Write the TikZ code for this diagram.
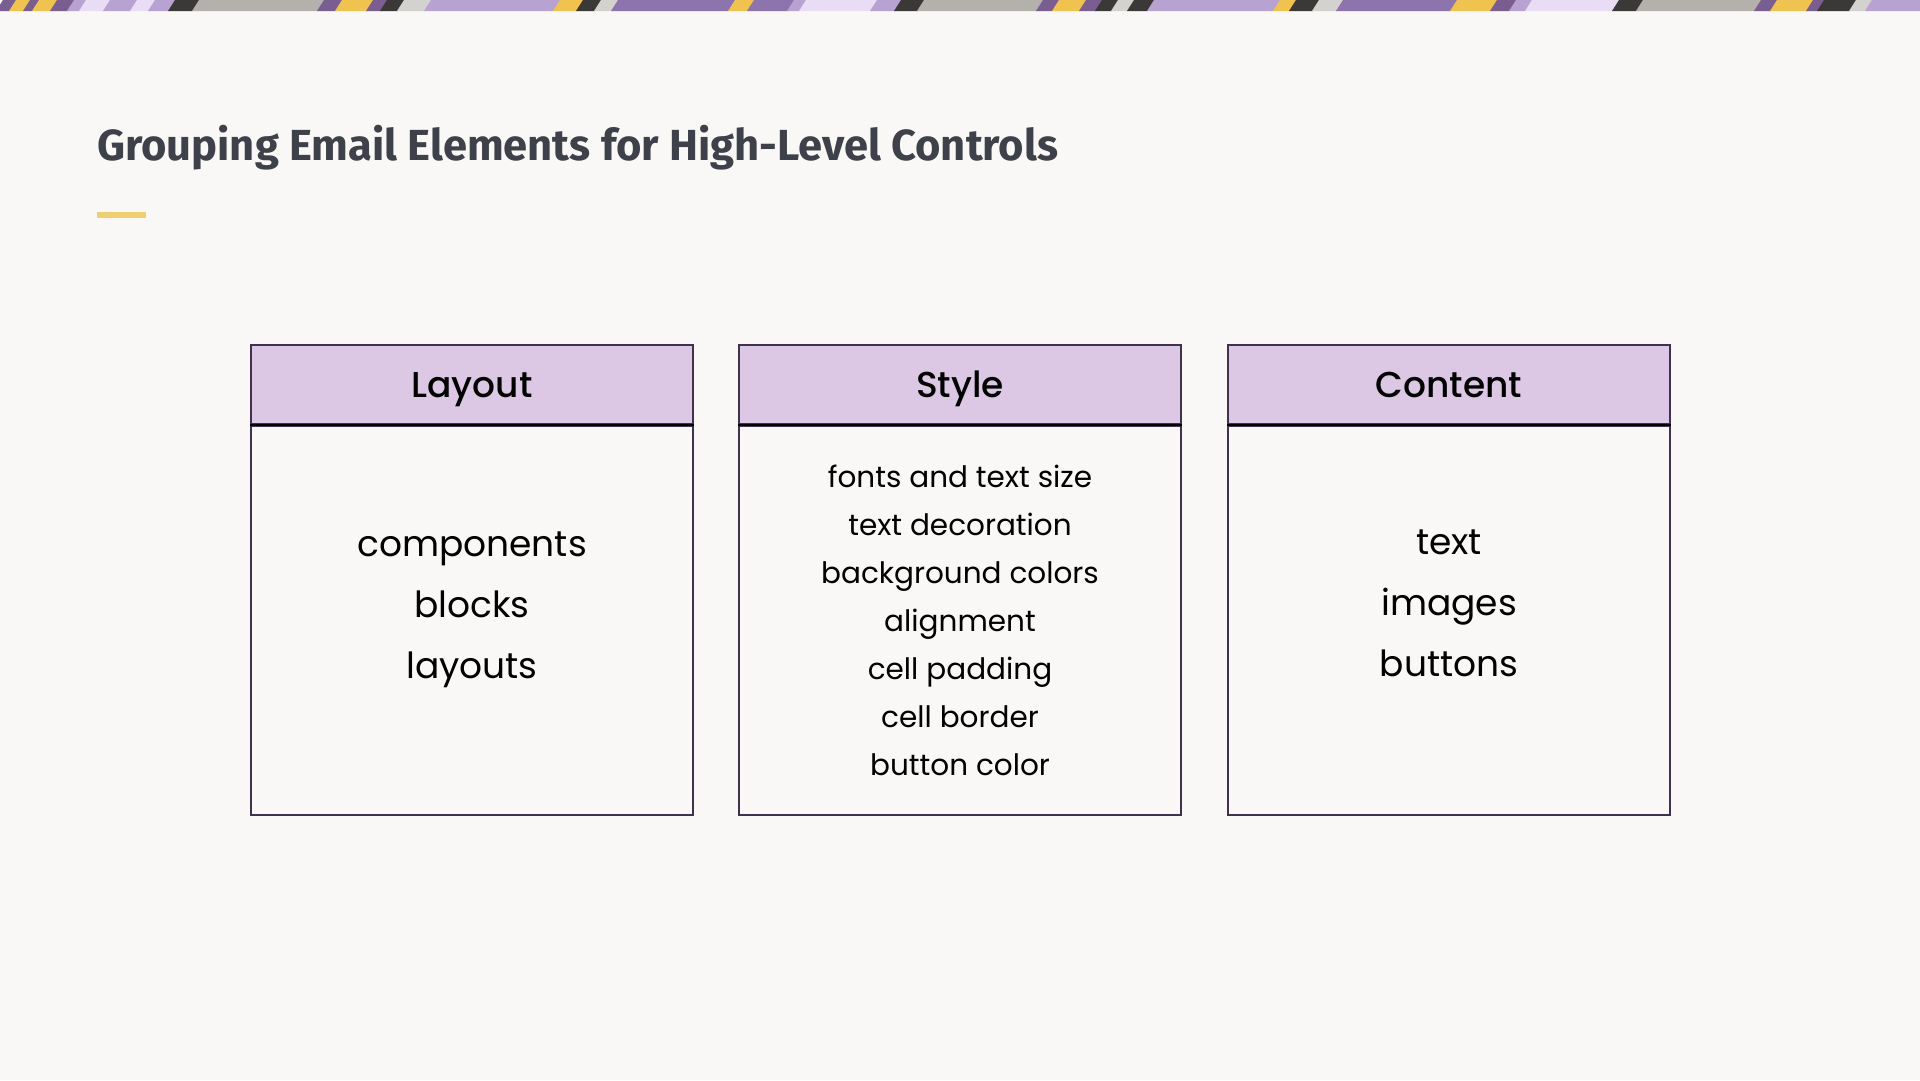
\documentclass[tikz,border=0pt]{standalone}
\usepackage{fontspec}
\setmainfont{Poppins}
\newfontfamily\titlefont{Fira Sans}
\newfontfamily\headfont{Poppins Medium}
\usetikzlibrary{positioning}
\definecolor{pagebg}{HTML}{F9F8F6}
\definecolor{titlegray}{HTML}{3E4149}
\definecolor{accentyellow}{HTML}{F0CF72}
\definecolor{boxline}{HTML}{3F3150}
\definecolor{headfill}{HTML}{DCC8E4}
% strip colours
\definecolor{sdark}{HTML}{7B5E91}
\definecolor{syel}{HTML}{F0C24F}
\definecolor{smed}{HTML}{8E74AC}
\definecolor{slight}{HTML}{B7A2D2}
\definecolor{spale}{HTML}{E9DDF6}
\definecolor{sgray}{HTML}{B4B0AC}
\definecolor{sblack}{HTML}{3B3938}
\definecolor{sltgray}{HTML}{D4D2CF}
\tikzset{
  colhead/.style={draw=boxline, fill=headfill, line width=2pt, minimum width=442pt,
    minimum height=79pt, inner sep=0pt, text height=26pt, text depth=0pt,
    text=black, font=\headfont\fontsize{36}{40}\selectfont},
  colbody/.style={draw=boxline, line width=2pt, minimum width=442pt,
    minimum height=389pt, inner sep=0pt},
  biglist/.style={align=center, inner sep=0pt, font=\fontsize{36}{61}\selectfont},
  smalllist/.style={align=center, inner sep=0pt, font=\fontsize{29.5}{48}\selectfont},
}

\begin{document}
\begin{tikzpicture}[x=1pt, y=-1pt]
  \useasboundingbox[fill=pagebg] (0,0) rectangle (1920,1080);
  % decorative strip
  \begin{scope}
    \clip (0,0) rectangle (1920,11);
    \foreach \xa/\xb/\col in {0/13/sdark, 13/27/syel, 27/36/sdark, 36/54/syel, 54/71/sdark,
        71/83/slight, 83/107/spale, 107/134/slight, 134/152/spale, 152/172/slight,
        172/196/sblack, 196/321/sgray, 321/339/sdark, 339/370/syel, 370/384/sdark,
        384/401/sblack, 401/428/sltgray, 428/557/slight, 557/580/syel, 580/598/sblack,
        598/615/sltgray, 615/732/smed, 732/751/syel, 751/791/smed, 791/803/slight,
        803/874/spale, 874/898/slight, 898/921/sblack, 921/1040/sgray, 1040/1056/sdark,
        1056/1083/syel, 1083/1099/sdark, 1099/1115/sblack, 1115/1131/sltgray,
        1131/1151/sblack, 1151/1277/slight, 1277/1293/syel, 1293/1316/sblack,
        1316/1340/sltgray, 1340/1454/smed, 1454/1494/syel, 1494/1513/sdark,
        1513/1529/slight, 1529/1616/spale, 1616/1640/sblack, 1640/1758/sgray,
        1758/1774/sdark, 1774/1810/syel, 1810/1821/sdark, 1821/1853/sblack,
        1853/1869/sltgray, 1869/1930/slight}
      \fill[\col] (\xa+3,0) -- (\xb+4,0) -- (\xb-3,11) -- (\xa-4,11) -- cycle;
  \end{scope}
  % title
  \node[anchor=base west, inner sep=0pt, text=titlegray,
    font=\titlefont\bfseries\fontsize{43.5}{50}\selectfont] (title) at (97,160)
    {Grouping Email Elements for High-Level Controls};
  \fill[accentyellow] (97,212) rectangle (146,218);
  % columns
  \node[colhead, anchor=north west] (layouthead) at (250,344) {Layout};
  \node[colbody, below=0pt of layouthead] (layoutbody) {};
  \node[colhead, anchor=north west] (stylehead) at (738,344) {Style};
  \node[colbody, below=0pt of stylehead] (stylebody) {};
  \node[colhead, anchor=north west] (contenthead) at (1227,344) {Content};
  \node[colbody, below=0pt of contenthead] (contentbody) {};
  \foreach \n in {layouthead, stylehead, contenthead}
    \draw[black, line width=2pt] (\n.south west) -- (\n.south east);
  % lists
  \node[biglist] (layoutitems) at ([yshift=11pt]layoutbody.center)
    {components\\ blocks\\ layouts};
  \node[smalllist] (styleitems) at (stylebody.center)
    {fonts and text size\\ text decoration\\ background colors\\ alignment\\
     cell padding\\ cell border\\ button color};
  \node[biglist] (contentitems) at ([yshift=17pt]contentbody.center)
    {text\\ images\\ buttons};
\end{tikzpicture}
\end{document}
